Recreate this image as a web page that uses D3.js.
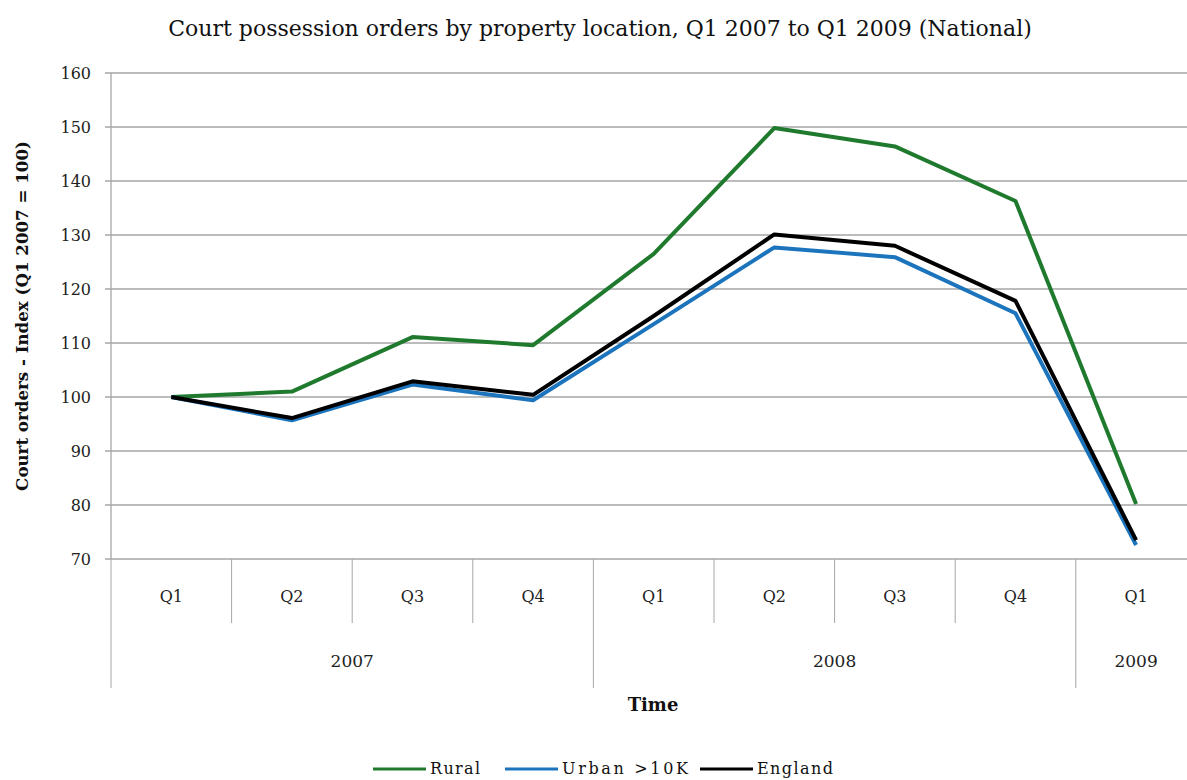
<!DOCTYPE html>
<html><head><meta charset="utf-8">
<script src="https://cdn.jsdelivr.net/npm/d3@7"></script>
<style>body{margin:0;background:#fff;overflow:hidden}svg{display:block}</style>
</head><body>
<script>
const quarters = ["Q1","Q2","Q3","Q4","Q1","Q2","Q3","Q4","Q1"];
const years = [{label:"2007", start:0, end:4},{label:"2008", start:4, end:8},{label:"2009", start:8, end:9}];
const rural = [100, 101.0, 111.1, 109.6, 126.5, 149.8, 146.4, 136.3, 80.2];
const urban = [100, 95.7, 102.3, 99.4, 113.5, 127.7, 125.9, 115.5, 72.6];
const england = [100, 96.1, 102.9, 100.4, 115.0, 130.1, 128.0, 117.8, 73.5];
const yTicks = [70,80,90,100,110,120,130,140,150,160];
const seriesNames = ["Rural","Urban >10K","England"];
const colors = ["#1f7a2e","#1c74bd","#000000"];

const W = 1187, H = 780;
const svg = d3.select("body").append("svg").attr("width", W).attr("height", H);
const serif = "'DejaVu Serif', 'Liberation Serif', serif";

const x = d3.scaleBand().domain(d3.range(quarters.length)).range([111, 111 + 9*120.6]);
const y = d3.scaleLinear().domain([70,160]).range([559, 73]);

function fitText(sel, target){
  const len = sel.node().getComputedTextLength();
  const fs = parseFloat(sel.attr("font-size"));
  sel.attr("font-size", fs*target/len);
}

// gridlines
svg.append("g").selectAll("line").data(yTicks).join("line")
  .attr("x1", 105).attr("x2", W).attr("y1", d=>y(d)).attr("y2", d=>y(d))
  .attr("stroke", "#a6a6a6").attr("stroke-width", 1.3);

// y axis line
svg.append("line").attr("x1",111).attr("x2",111).attr("y1",y(160)).attr("y2",y(70))
  .attr("stroke","#a6a6a6").attr("stroke-width",1.3);

// y tick labels
svg.append("g").selectAll("text").data(yTicks).join("text")
  .attr("x", 91).attr("y", d=>y(d)+6).attr("text-anchor","end")
  .attr("font-family", serif).attr("font-size", 16).attr("fill","#222")
  .text(d=>d);

// category dividers
svg.append("g").selectAll("line").data(d3.range(1, quarters.length)).join("line")
  .attr("x1", d=>x(d)).attr("x2", d=>x(d)).attr("y1", 559)
  .attr("y2", d=> years.some(yr=>yr.start===d) ? 688 : 623)
  .attr("stroke","#a6a6a6").attr("stroke-width",1);
svg.append("line").attr("x1",111).attr("x2",111).attr("y1",559).attr("y2",688)
  .attr("stroke","#a6a6a6").attr("stroke-width",1);

// quarter labels
svg.append("g").selectAll("text").data(quarters).join("text")
  .attr("x", (d,i)=>x(i)+x.bandwidth()/2).attr("y", 602).attr("text-anchor","middle")
  .attr("font-family", serif).attr("font-size", 16).attr("fill","#222").text(d=>d);

// year labels
svg.append("g").selectAll("text").data(years).join("text")
  .attr("x", d=>(x(d.start) + x(d.end-1)+x.bandwidth())/2).attr("y", 667).attr("text-anchor","middle")
  .attr("font-family", serif).attr("font-size", 17).attr("fill","#222").text(d=>d.label);

// x title
svg.append("text").attr("x", 653).attr("y", 711).attr("text-anchor","middle")
  .attr("font-family", serif).attr("font-weight","bold").attr("font-size", 18).attr("fill","#111").text("Time");

// y title
const yt = svg.append("text").attr("transform","translate(28,316) rotate(-90)").attr("text-anchor","middle")
  .attr("font-family", serif).attr("font-weight","bold").attr("font-size", 16).attr("fill","#111")
  .text("Court orders - Index (Q1 2007 = 100)");
fitText(yt, 350);

// title
const tt = svg.append("text").attr("x", 600).attr("y", 36).attr("text-anchor","middle")
  .attr("font-family", serif).attr("font-size", 18).attr("fill","#111")
  .text("Court possession orders by property location, Q1 2007 to Q1 2009 (National)");
fitText(tt, 864);

// lines
const line = d3.line().x((d,i)=>x(i)+x.bandwidth()/2).y(d=>y(d));
[rural, urban, england].forEach((s,k)=>{
  svg.append("path").datum(s).attr("d", line).attr("fill","none")
    .attr("stroke", colors[k]).attr("stroke-width", 4).attr("stroke-linejoin","round");
});

// legend
const legX = [373, 505, 700];
const legW = [50, 126, 76];
const lg = svg.append("g");
seriesNames.forEach((n,k)=>{
  lg.append("line").attr("x1", legX[k]).attr("x2", legX[k]+53).attr("y1", 769).attr("y2", 769)
    .attr("stroke", colors[k]).attr("stroke-width", 3);
  lg.append("text").attr("x", legX[k]+57).attr("y", 774).attr("font-family", serif)
    .attr("font-size", 16).attr("fill","#111")
    .attr("textLength", legW[k]).attr("lengthAdjust","spacing").text(n);
});
</script>
</body></html>
